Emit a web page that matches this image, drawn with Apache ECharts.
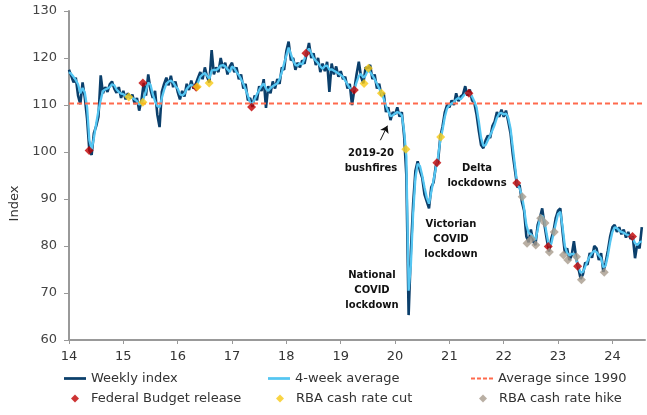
<!DOCTYPE html>
<html>
<head>
<meta charset="utf-8">
<script src="https://cdn.jsdelivr.net/npm/echarts@6/dist/echarts.min.js"></script>
<style>
  html, body { margin: 0; padding: 0; background: #fff; }
  #chart { width: 647px; height: 415px; }
</style>
</head>
<body>
<div id="chart"></div>
<script>
// half-monthly readings, starting Jan 2014 (x axis is years, 14 = 2014)
let startYear = 14
let perYear = 24

let weekly = [
  // 2014
  117.5, 116.2, 114.8, 115.8, 112.0, 110.2, 114.8, 111.5, 107.0, 100.3, 99.4, 104.0,
  105.5, 107.5, 116.3, 112.5, 113.8, 112.8, 114.4, 115.0, 113.5, 112.6, 113.8, 111.5,
  // 2015
  113.0, 111.2, 112.5, 111.5, 112.2, 110.2, 111.5, 108.8, 111.0, 114.7, 112.0, 116.5,
  113.2, 111.5, 113.0, 108.0, 105.3, 112.8, 114.5, 115.8, 114.2, 116.2, 113.8, 115.0,
  // 2016
  112.8, 111.2, 113.0, 111.8, 114.5, 113.2, 115.2, 113.5, 114.5, 115.8, 117.0, 115.5,
  118.0, 116.0, 114.8, 121.7, 116.5, 118.0, 117.0, 120.0, 117.8, 119.0, 116.5, 118.2,
  // 2017
  119.0, 117.0, 118.0, 115.5, 116.5, 113.5, 114.5, 111.0, 111.5, 109.6, 112.0, 111.0,
  114.0, 113.0, 115.5, 109.4, 114.0, 112.5, 115.0, 113.5, 115.5, 114.5, 118.0, 117.5,
  // 2018
  121.5, 123.5, 119.5, 120.0, 117.5, 119.0, 118.0, 119.5, 118.8, 121.0, 123.2, 120.0,
  121.0, 118.5, 120.0, 117.0, 118.8, 117.2, 119.2, 112.8, 118.8, 116.5, 118.2, 116.0,
  // 2019
  117.2, 115.5, 116.0, 113.5, 114.5, 110.0, 113.2, 116.5, 119.2, 116.0, 114.6, 118.0,
  117.8, 118.5, 115.5, 116.5, 113.5, 114.5, 112.0, 112.5, 108.5, 109.5, 106.8, 108.5,
  // 2020
  108.0, 109.5, 107.5, 108.5, 103.5, 95.0, 65.3, 79.0, 89.0, 96.0, 98.0, 96.0,
  94.5, 91.0, 89.5, 88.0, 92.5, 93.5, 97.0, 98.0, 103.2, 105.5, 108.5, 110.0,
  // 2021
  109.5, 111.0, 110.0, 112.5, 110.8, 111.8, 112.2, 114.0, 112.0, 113.3, 111.0, 110.5,
  108.0, 104.5, 101.5, 100.8, 102.5, 103.5, 103.0, 105.5, 106.5, 108.5, 107.5, 109.0,
  // 2022
  107.5, 108.8, 106.5, 104.0, 99.5, 96.0, 92.5, 93.0, 89.5, 87.5, 82.0, 80.8,
  83.5, 81.0, 80.2, 84.5, 86.0, 88.0, 84.5, 81.5, 78.8, 81.5, 83.2, 86.0,
  // 2023
  87.5, 88.0, 83.0, 78.5, 79.5, 77.0, 78.0, 81.0, 77.5, 75.2, 73.0, 74.0,
  76.5, 76.0, 78.5, 77.5, 80.0, 79.5, 77.0, 78.5, 74.5, 76.5, 79.0, 82.0,
  // 2024
  84.0, 84.5, 83.0, 84.0, 82.5, 83.5, 81.8, 83.0, 81.5, 82.0, 77.4, 80.5,
  79.5, 84.0
]

let fourWeek = [
  // 2014
  117.0, 116.6, 116.0, 115.3, 114.4, 112.5, 113.6, 112.6, 109.5, 102.5, 100.6, 103.0,
  106.0, 108.8, 111.0, 113.0, 113.3, 113.5, 113.8, 114.4, 114.2, 113.3, 112.8, 112.4,
  // 2015
  112.3, 111.9, 111.8, 111.7, 111.5, 111.2, 110.8, 110.1, 110.3, 111.5, 113.0, 114.8,
  114.3, 112.3, 110.8, 109.8, 109.5, 111.5, 113.2, 114.5, 115.0, 115.2, 114.8, 114.0,
  // 2016
  113.5, 112.3, 112.0, 112.4, 113.4, 114.0, 114.3, 114.0, 113.8, 114.8, 116.0, 116.5,
  116.8, 116.2, 115.6, 117.3, 117.5, 117.4, 117.8, 118.4, 118.5, 118.2, 117.6, 117.0,
  // 2017
  118.2, 117.8, 117.0, 116.4, 115.5, 114.5, 113.3, 112.0, 110.5, 110.2, 111.2, 112.3,
  113.2, 114.0, 114.6, 113.5, 113.0, 113.6, 114.0, 114.3, 114.6, 115.5, 117.0, 118.8,
  // 2018
  120.5, 122.2, 120.8, 119.4, 118.5, 118.4, 118.9, 118.6, 119.8, 121.2, 122.0, 121.0,
  120.0, 119.4, 118.9, 118.2, 117.7, 118.3, 118.4, 117.5, 117.6, 117.3, 117.0, 116.7,
  // 2019
  116.4, 116.0, 115.2, 114.4, 113.6, 113.3, 113.3, 114.8, 116.2, 116.6, 115.8, 116.3,
  117.4, 117.0, 116.3, 115.5, 114.5, 113.5, 112.6, 111.3, 109.8, 108.6, 107.6, 107.8,
  // 2020
  108.2, 108.5, 108.3, 107.8, 104.5, 99.0, 70.5, 76.0, 87.0, 94.5, 97.5, 97.0,
  95.0, 92.5, 90.3, 89.0, 91.5, 94.0, 96.5, 99.0, 102.5, 104.8, 107.5, 109.3,
  // 2021
  110.0, 110.3, 110.6, 111.2, 111.5, 111.2, 111.8, 112.4, 112.6, 112.4, 111.8, 110.8,
  109.5, 106.5, 103.0, 101.3, 101.5, 102.5, 103.5, 104.6, 105.8, 107.3, 108.2, 108.3,
  // 2022
  108.0, 108.2, 107.3, 105.0, 101.0, 97.0, 93.0, 92.3, 90.8, 88.0, 84.5, 82.8,
  82.5, 82.0, 81.3, 83.5, 85.8, 86.5, 85.3, 82.5, 80.0, 80.5, 82.6, 84.8,
  // 2023
  86.8, 87.3, 84.0, 80.0, 78.5, 78.0, 78.3, 78.3, 77.2, 75.6, 74.3, 74.5,
  75.6, 76.8, 77.8, 78.5, 79.0, 78.7, 78.0, 77.4, 75.5, 75.8, 78.0, 80.8,
  // 2024
  83.0, 84.0, 83.8, 83.3, 83.0, 82.8, 82.5, 82.3, 82.0, 81.7, 80.6, 80.2,
  80.8, 81.0
]

let avgSince1990 = 110.3

// [year, index]
let budgetPts = [[14.37, 100.3], [15.36, 114.7], [16.34, 113.8], [17.36, 109.6], [18.36, 121.0],
  [19.25, 113.2], [20.77, 97.7], [21.36, 112.5], [22.24, 93.4], [22.82, 79.9], [23.36, 75.7], [24.37, 82.0]]
let cutPts = [[15.10, 111.7], [15.36, 110.6], [16.36, 113.9], [16.58, 114.7], [19.43, 114.6],
  [19.51, 117.8], [19.75, 112.5], [20.20, 100.6], [20.84, 103.2]]
let hikePts = [[22.34, 90.5], [22.43, 80.6], [22.51, 81.5], [22.59, 80.2], [22.68, 85.9], [22.76, 84.9],
  [22.84, 78.7], [22.93, 83.0], [23.10, 78.1], [23.18, 77.0], [23.34, 77.7], [23.43, 72.8], [23.85, 74.4]]

let xMin = 14, xMax = 24.6

function toPairs(arr){
  let out = []
  for (let i = 0; i < arr.length; i++) {
    out.push([startYear + i / perYear, arr[i]])
  }
  return out
}

let font = 'DejaVu Sans'
let noteStyle = { fontFamily: font, fontSize: 10, fontWeight: 'bold', fill: '#111', lineHeight: 15, textAlign: 'center' }
let solidIcon = 'path://M0,0H24V3H0Z'
let dashIcon = 'path://M0,0H4V2H0ZM6,0H10V2H6ZM12,0H16V2H12ZM18,0H22V2H18Z'

function legendAt(name, left, top, icon, w, h){
  return {
    data: [{ name: name, icon: icon }],
    left: left,
    top: top,
    padding: 0,
    itemWidth: w,
    itemHeight: h,
    selectedMode: false,
    textStyle: { fontFamily: font, fontSize: 13, color: '#333', padding: [0, 0, 0, w < 10 ? 7 : 0] }
  }
}

let option = {
  animation: false,
  grid: { left: 69, right: 2, top: 11, bottom: 75 },
  legend: [
    legendAt('Weekly index', 64, 372, solidIcon, 22, 3),
    legendAt('4-week average', 268, 372, solidIcon, 22, 3),
    legendAt('Average since 1990', 471, 372, dashIcon, 22, 2),
    legendAt('Federal Budget release', 71, 392, 'diamond', 8, 8),
    legendAt('RBA cash rate cut', 276, 392, 'diamond', 8, 8),
    legendAt('RBA cash rate hike', 479, 392, 'diamond', 8, 8)
  ],
  xAxis: {
    type: 'value',
    min: xMin,
    max: xMax,
    interval: 1,
    axisLine: { lineStyle: { color: '#999', width: 2 } },
    axisTick: { show: true, length: 4, lineStyle: { color: '#999' } },
    axisLabel: { color: '#333', fontFamily: font, fontSize: 13, margin: 10, showMaxLabel: false },
    splitLine: { show: false }
  },
  yAxis: {
    type: 'value',
    min: 60,
    max: 130,
    interval: 10,
    name: 'Index',
    nameLocation: 'middle',
    nameGap: 48,
    nameTextStyle: { color: '#333', fontFamily: font, fontSize: 13, padding: [0, 56, 0, 0] },
    axisLine: { show: true, lineStyle: { color: '#999', width: 2 } },
    axisTick: { show: true, length: 5, lineStyle: { color: '#999' } },
    axisLabel: { color: '#444', fontFamily: font, fontSize: 13, margin: 12 },
    splitLine: { show: false }
  },
  series: [
    {
      name: 'Weekly index',
      type: 'line',
      data: toPairs(weekly),
      symbol: 'none',
      lineStyle: { color: '#0B3F6B', width: 2.6 },
      itemStyle: { color: '#0B3F6B' },
      z: 2,
      markLine: {
        silent: true,
        symbol: ['none', 'arrow'],
        symbolSize: 7,
        label: { show: false },
        lineStyle: { color: '#111', width: 1, type: 'solid' },
        data: [[{ coord: [19.73, 102.5] }, { coord: [19.86, 105.6] }]]
      }
    },
    {
      name: '4-week average',
      type: 'line',
      data: toPairs(fourWeek),
      symbol: 'none',
      lineStyle: { color: '#55C6F2', width: 2.3 },
      itemStyle: { color: '#55C6F2' },
      z: 3
    },
    {
      name: 'Average since 1990',
      type: 'line',
      data: [[xMin, avgSince1990], [xMax, avgSince1990]],
      symbol: 'none',
      lineStyle: { color: '#FF6A4D', width: 2, type: [5, 3] },
      itemStyle: { color: '#FF6A4D' },
      z: 4
    },
    {
      name: 'Federal Budget release',
      type: 'scatter',
      symbol: 'diamond',
      symbolSize: 9,
      data: budgetPts,
      itemStyle: { color: '#C00000' },
      z: 6
    },
    {
      name: 'RBA cash rate cut',
      type: 'scatter',
      symbol: 'diamond',
      symbolSize: 9,
      data: cutPts,
      itemStyle: { color: '#F7C914' },
      z: 6
    },
    {
      name: 'RBA cash rate hike',
      type: 'scatter',
      symbol: 'diamond',
      symbolSize: 9,
      data: hikePts,
      itemStyle: { color: '#A89B8C' },
      z: 6
    }
  ],
  graphic: [
    { type: 'text', left: 371 - 30, top: 146, style: Object.assign({ text: '2019-20\nbushfires', width: 60 }, noteStyle), z: 10 },
    { type: 'text', left: 372 - 30, top: 268, style: Object.assign({ text: 'National\nCOVID\nlockdown', width: 60 }, noteStyle), z: 10 },
    { type: 'text', left: 451 - 30, top: 217, style: Object.assign({ text: 'Victorian\nCOVID\nlockdown', width: 60 }, noteStyle), z: 10 },
    { type: 'text', left: 477 - 35, top: 161, style: Object.assign({ text: 'Delta\nlockdowns', width: 70 }, noteStyle), z: 10 }
  ]
}

let chart = echarts.init(document.getElementById('chart'), null, { renderer: 'canvas' })
chart.setOption(option)
</script>
</body>
</html>
